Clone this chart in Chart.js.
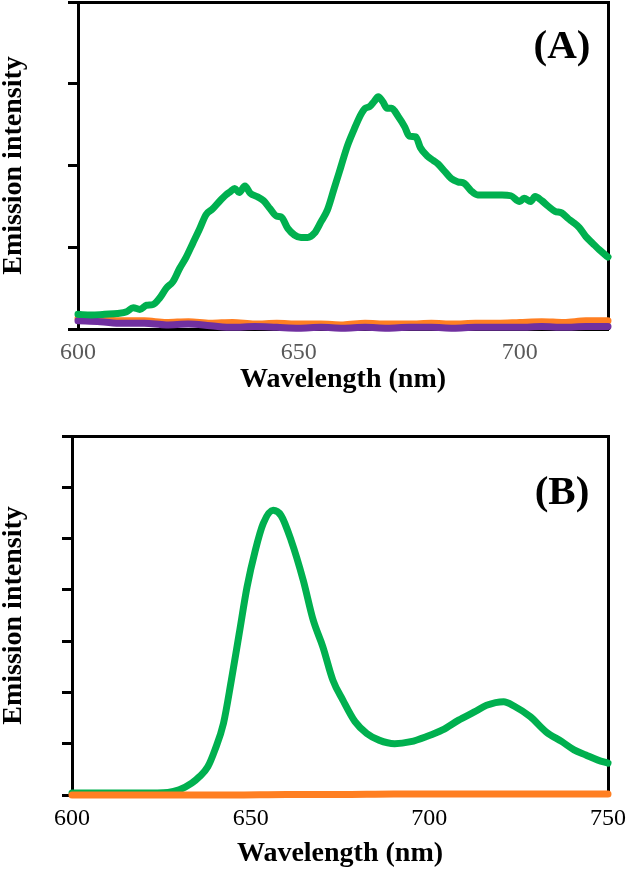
<!DOCTYPE html>
<html>
<head>
<meta charset="utf-8">
<script src="https://cdn.jsdelivr.net/npm/chart.js@4"></script>
<style>
  html, body { margin: 0; padding: 0; background: #fff; }
  #wrap { position: relative; width: 626px; height: 871px; }
  canvas { position: absolute; left: 0; }
  #chartA { top: 0; }
  #chartB { top: 400px; }
</style>
</head>
<body>
<div id="wrap">
  <canvas id="chartA" width="626" height="400"></canvas>
  <canvas id="chartB" width="626" height="471"></canvas>
</div>
<script>
// panel A data
const wlGreenA = [600, 603, 606, 609, 611, 612.5, 614, 615.5, 617, 618.5, 620, 621.5, 623, 624.5, 626, 627.5, 629, 630.5, 632, 633.5, 634.5, 635.5, 636.5, 637.8, 639, 640.5, 642, 643.5, 645, 646, 647.5, 649, 650.5, 652, 653.5, 655, 656.5, 658, 659.5, 661, 662.5, 664, 665, 666, 667, 668, 669, 670, 671, 672.5, 674, 675, 676.5, 677.5, 679, 680.5, 681.5, 683, 684.5, 686, 687.5, 689, 690.5, 693, 696, 698, 700, 701, 702.5, 703.5, 705, 706.5, 708, 709.5, 711, 712, 713.5, 715, 716.5, 718, 720];
const greenA = [0.18, 0.17, 0.18, 0.19, 0.21, 0.26, 0.24, 0.29, 0.30, 0.38, 0.50, 0.58, 0.74, 0.88, 1.05, 1.22, 1.40, 1.47, 1.56, 1.64, 1.68, 1.72, 1.67, 1.75, 1.66, 1.62, 1.57, 1.47, 1.38, 1.37, 1.23, 1.15, 1.12, 1.12, 1.17, 1.31, 1.46, 1.72, 1.98, 2.24, 2.44, 2.62, 2.70, 2.72, 2.78, 2.84, 2.78, 2.70, 2.70, 2.60, 2.47, 2.36, 2.35, 2.22, 2.12, 2.06, 2.02, 1.93, 1.84, 1.80, 1.78, 1.69, 1.64, 1.64, 1.64, 1.63, 1.56, 1.60, 1.56, 1.62, 1.57, 1.50, 1.44, 1.42, 1.35, 1.31, 1.24, 1.13, 1.05, 0.97, 0.88];

const wlLowA = [600, 605, 610, 615, 620, 625, 630, 635, 640, 645, 650, 655, 660, 665, 670, 675, 680, 685, 690, 695, 700, 705, 710, 715, 720];
const orangeA = [0.13, 0.12, 0.10, 0.10, 0.08, 0.09, 0.07, 0.08, 0.06, 0.07, 0.06, 0.06, 0.05, 0.07, 0.06, 0.06, 0.07, 0.06, 0.07, 0.07, 0.08, 0.09, 0.08, 0.10, 0.10];
const purpleA = [0.10, 0.09, 0.07, 0.07, 0.05, 0.06, 0.04, 0.02, 0.03, 0.02, 0.01, 0.02, 0.01, 0.02, 0.01, 0.02, 0.02, 0.01, 0.02, 0.02, 0.02, 0.03, 0.02, 0.03, 0.03];

const xTicksA = [600, 650, 700];

// panel B data
const wlGreenB = [600, 610, 620, 626.8, 630, 633.5, 635.7, 638, 640, 642.4, 644.6, 646.8, 649, 651.3, 653.5, 656.3, 658.5, 661.3, 664.7, 667.5, 670.2, 673, 675.8, 679.2, 682.5, 685.9, 690.3, 694.8, 699.2, 703.7, 708.2, 712.6, 716, 720.8, 723.8, 728.2, 732.7, 737.1, 740.5, 743.8, 747.2, 750];
const greenB = [0.04, 0.04, 0.04, 0.05, 0.10, 0.23, 0.36, 0.55, 0.88, 1.40, 2.24, 3.15, 4.06, 4.77, 5.29, 5.55, 5.45, 4.97, 4.19, 3.41, 2.89, 2.24, 1.85, 1.43, 1.20, 1.07, 1.00, 1.04, 1.14, 1.27, 1.46, 1.62, 1.75, 1.82, 1.73, 1.53, 1.23, 1.04, 0.88, 0.78, 0.68, 0.62];

const wlOrangeB = [600, 615, 630, 645, 660, 675, 690, 705, 720, 735, 750];
const orangeB = [0.0, 0.0, 0.0, 0.0, 0.01, 0.01, 0.02, 0.02, 0.02, 0.02, 0.02];

const xTicksB = [600, 650, 700, 750];

const GREEN = '#00b04f';
const ORANGE = '#ff7f22';
const PURPLE = '#7030a0';
const SERIF = "'Liberation Serif', 'Times New Roman', serif";

function pts(xs, ys) {
  return xs.map((x, i) => ({ x: x, y: ys[i] }));
}

function line(data, color) {
  return {
    data: data,
    borderColor: color,
    borderWidth: 7,
    pointRadius: 0,
    cubicInterpolationMode: 'monotone',
    borderCapStyle: 'round',
    borderJoinStyle: 'round',
    clip: 5,
    fill: false
  };
}

// panel letter inside the plot area
const panelLabel = {
  id: 'panelLabel',
  afterDraw(chart, args, opts) {
    const { ctx, chartArea } = chart;
    ctx.save();
    ctx.font = 'bold 41px ' + SERIF;
    ctx.fillStyle = '#000';
    ctx.textAlign = 'center';
    ctx.textBaseline = 'middle';
    ctx.fillText(opts.text, chartArea.right - opts.dx, chartArea.top + opts.dy);
    ctx.restore();
  }
};

function makeChart(id, cfg) {
  const frame = { display: true, width: 3, color: '#000' };
  return new Chart(document.getElementById(id), {
    type: 'line',
    data: { datasets: cfg.datasets },
    options: {
      responsive: false,
      animation: false,
      layout: { padding: { left: 0, right: cfg.padRight, top: cfg.padTop, bottom: 0 } },
      plugins: {
        legend: { display: false },
        tooltip: { enabled: false },
        panelLabel: cfg.label
      },
      scales: {
        x: {
          type: 'linear',
          position: 'bottom',
          min: cfg.xMin,
          max: cfg.xMax,
          afterBuildTicks: s => { s.ticks = cfg.xTicks.map(v => ({ value: v })); },
          afterFit: s => { s.height = cfg.xHeight; s.paddingLeft = 0; s.paddingRight = 0; },
          grid: { display: false, drawTicks: false },
          border: frame,
          ticks: {
            color: cfg.tickColor,
            padding: 9,
            maxRotation: 0,
            font: { family: SERIF, size: 24 }
          },
          title: {
            display: true,
            text: 'Wavelength (nm)',
            color: '#000',
            padding: { top: 0, bottom: cfg.xTitlePad },
            font: { family: SERIF, size: 28, weight: 'bold', lineHeight: 1 }
          }
        },
        y: {
          position: 'left',
          min: 0,
          max: cfg.yMax,
          afterBuildTicks: s => {
            const t = [];
            for (let v = 0; v <= cfg.yMax; v++) t.push({ value: v });
            s.ticks = t;
          },
          afterFit: s => { s.width = cfg.yWidth; s.paddingTop = 0; s.paddingBottom = 0; },
          grid: { display: true, drawOnChartArea: false, drawTicks: true, tickLength: 10, tickWidth: 3, tickColor: '#000' },
          border: frame,
          ticks: { display: false },
          title: {
            display: true,
            text: 'Emission intensity',
            color: '#000',
            padding: 0,
            font: { family: SERIF, size: 28, weight: 'bold', lineHeight: 1 }
          }
        },
        xTop: {
          type: 'linear',
          position: 'top',
          min: cfg.xMin,
          max: cfg.xMax,
          afterFit: s => { s.height = 0; s.paddingLeft = 0; s.paddingRight = 0; },
          grid: { display: false, drawTicks: false },
          border: frame,
          ticks: { display: false }
        },
        yRight: {
          type: 'linear',
          position: 'right',
          min: 0,
          max: cfg.yMax,
          afterFit: s => { s.width = 0; s.paddingTop = 0; s.paddingBottom = 0; },
          grid: { display: false, drawTicks: false },
          border: frame,
          ticks: { display: false }
        }
      }
    },
    plugins: [panelLabel]
  });
}

makeChart('chartA', {
  datasets: [
    line(pts(wlGreenA, greenA), GREEN),
    line(pts(wlLowA, purpleA), PURPLE),
    line(pts(wlLowA, orangeA), ORANGE)
  ],
  xMin: 600, xMax: 720, xTicks: xTicksA, yMax: 4,
  padTop: 2, padRight: 18, yWidth: 78, xHeight: 71,
  tickColor: '#595959', xTitlePad: 6,
  label: { text: '(A)', dx: 46, dy: 45 }
});

makeChart('chartB', {
  datasets: [
    line(pts(wlOrangeB, orangeB), ORANGE),
    line(pts(wlGreenB, greenB), GREEN)
  ],
  xMin: 600, xMax: 750, xTicks: xTicksB, yMax: 7,
  padTop: 36, padRight: 18, yWidth: 72, xHeight: 76,
  tickColor: '#000', xTitlePad: 3,
  label: { text: '(B)', dx: 46, dy: 57 }
});
</script>
</body>
</html>
